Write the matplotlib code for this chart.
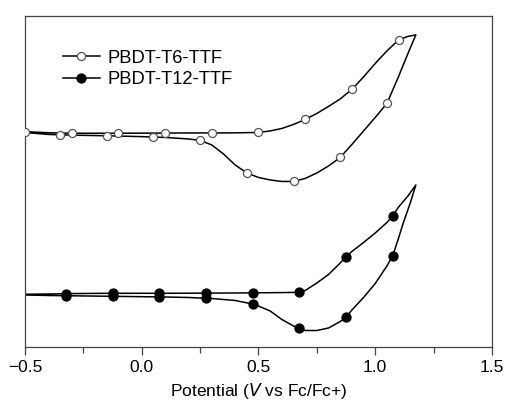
import matplotlib
matplotlib.use("Agg")
import matplotlib.pyplot as plt
from matplotlib.lines import Line2D
from matplotlib.ticker import MultipleLocator

# Cyclic voltammograms, current in arbitrary units (curves are offset).
# PBDT-T6-TTF: anodic sweep then return sweep
T6_FWD_E = [-0.5, -0.4, -0.3, -0.2, -0.1, 0.0, 0.1, 0.2, 0.3, 0.4, 0.5, 0.55,
            0.6, 0.65, 0.7, 0.75, 0.8, 0.85, 0.9, 0.95, 1.0, 1.05, 1.1, 1.14,
            1.174]
T6_FWD_I = [215.3, 214.2, 213.7, 213.7, 213.7, 213.8, 213.9, 214.0, 214.0,
            214.1, 214.5, 216.0, 218.5, 222.5, 227.5, 233.5, 240.5, 248.0,
            257.5, 270.0, 283.5, 296.0, 307.0, 310.5, 312.0]
T6_REV_E = [1.174, 1.15, 1.12, 1.1, 1.05, 1.0, 0.95, 0.9, 0.85, 0.8, 0.75,
            0.7, 0.65, 0.6, 0.55, 0.5, 0.45, 0.4, 0.35, 0.3, 0.25, 0.2, 0.1,
            0.0, -0.1, -0.2, -0.3, -0.4, -0.5]
T6_REV_I = [312.0, 299.0, 282.0, 270.5, 243.5, 229.5, 216.0, 202.5, 189.5,
            181.0, 174.0, 168.5, 165.5, 165.5, 167.0, 169.5, 174.0, 182.0,
            193.0, 202.0, 206.5, 208.0, 209.5, 210.3, 210.9, 211.4, 211.8,
            212.5, 214.5]
T6_MARK_E = [-0.5, -0.3, -0.1, 0.1, 0.3, 0.5, 0.7, 0.9, 1.1,
             1.05, 0.85, 0.65, 0.45, 0.25, 0.05, -0.15, -0.35]
T6_MARK_I = [215.3, 213.7, 213.7, 213.9, 214.0, 214.5, 227.5, 257.5, 307.0,
             243.5, 189.5, 165.5, 174.0, 206.5, 210.0, 211.2, 212.0]

# PBDT-T12-TTF
T12_FWD_E = [-0.5, -0.4, -0.3, -0.2, -0.1, 0.0, 0.1, 0.2, 0.3, 0.4, 0.5, 0.6,
             0.675, 0.7, 0.75, 0.8, 0.85, 0.875, 0.9, 0.95, 1.0, 1.05, 1.075,
             1.1, 1.14, 1.174]
T12_FWD_I = [52.7, 53.0, 53.4, 53.6, 53.7, 53.7, 53.7, 53.8, 53.9, 54.0, 54.2,
             54.4, 54.7, 56.5, 64.0, 72.5, 84.0, 90.3, 95.5, 104.5, 114.0,
             124.5, 131.3, 140.0, 151.0, 162.0]
T12_REV_E = [1.174, 1.15, 1.12, 1.1, 1.075, 1.05, 1.0, 0.95, 0.9, 0.875, 0.85,
             0.8, 0.75, 0.7, 0.675, 0.65, 0.6, 0.55, 0.5, 0.475, 0.4, 0.3, 0.2,
             0.1, 0.0, -0.1, -0.2, -0.3, -0.4, -0.5]
T12_REV_I = [162.0, 144.0, 124.0, 109.0, 91.3, 81.0, 63.5, 49.5, 37.0, 29.7,
             25.5, 19.0, 16.5, 16.5, 18.7, 21.0, 27.5, 36.0, 41.0, 43.0, 46.5,
             48.5, 49.5, 50.0, 50.3, 50.6, 50.9, 51.2, 51.5, 52.0]
T12_MARK_E = [-0.325, -0.125, 0.075, 0.275, 0.475, 0.675, 0.875, 1.075,
              -0.325, -0.125, 0.075, 0.275, 0.475, 0.675, 0.875, 1.075]
T12_MARK_I = [53.4, 53.7, 53.7, 53.9, 54.2, 54.7, 90.3, 131.3,
              51.1, 50.7, 50.1, 48.7, 43.0, 18.7, 29.7, 91.3]

LABELS = ["PBDT-T6-TTF", "PBDT-T12-TTF"]

plt.rcParams.update({
    "font.family": ["Liberation Sans", "DejaVu Sans"],
    "font.size": 12.5,
})

fig = plt.figure(figsize=(5.07, 4.08), dpi=100)
ax = fig.add_axes([0.0493, 0.1495, 0.9211, 0.8115])

LINE = dict(color="black", linewidth=1.1, zorder=2)
OPEN = dict(marker="o", linestyle="none", markersize=5.8,
            markerfacecolor="white", markeredgecolor="#555555",
            markeredgewidth=0.9, zorder=3)
FILLED = dict(marker="o", linestyle="none", markersize=6.4,
              markerfacecolor="black", markeredgecolor="black", zorder=3)

ax.plot(T6_FWD_E + T6_REV_E, T6_FWD_I + T6_REV_I, **LINE)
ax.plot(T6_MARK_E, T6_MARK_I, **OPEN)
ax.plot(T12_FWD_E + T12_REV_E, T12_FWD_I + T12_REV_I, **LINE)
ax.plot(T12_MARK_E, T12_MARK_I, **FILLED)

ax.set_xlim(-0.5, 1.5)
ax.set_ylim(0, 331)
ax.xaxis.set_minor_locator(MultipleLocator(0.25))
ax.set_xticks([-0.5, 0.0, 0.5, 1.0, 1.5])
ax.set_xticklabels(["\u22120.5", "0.0", "0.5", "1.0", "1.5"])
ax.set_yticks([])
ax.tick_params(axis="x", which="major", direction="out", length=6,
               width=0.9, color="#444444", pad=3)
ax.tick_params(axis="x", which="minor", direction="out", length=4.5,
               width=0.9, color="#444444")
for spine in ax.spines.values():
    spine.set_color("#444444")
    spine.set_linewidth(0.9)

ax.set_xlabel("Potential ($\\it{V}$ vs Fc/Fc+)", labelpad=5)

# Legend handles show line + marker, same style as the plotted curves
legend_open = {k: v for k, v in OPEN.items() if k not in ("linestyle", "zorder")}
legend_fill = {k: v for k, v in FILLED.items() if k not in ("linestyle", "zorder")}
handles = [
    Line2D([], [], color="black", linewidth=1.1, **legend_open),
    Line2D([], [], color="black", linewidth=1.1, **legend_fill),
]
ax.legend(handles, LABELS, loc="upper left", bbox_to_anchor=(0.066, 0.92),
          frameon=False, handlelength=2.0, handletextpad=0.4,
          labelspacing=0.25, borderaxespad=0.0, fontsize=13.2)

fig.savefig("out.png", dpi=100)
